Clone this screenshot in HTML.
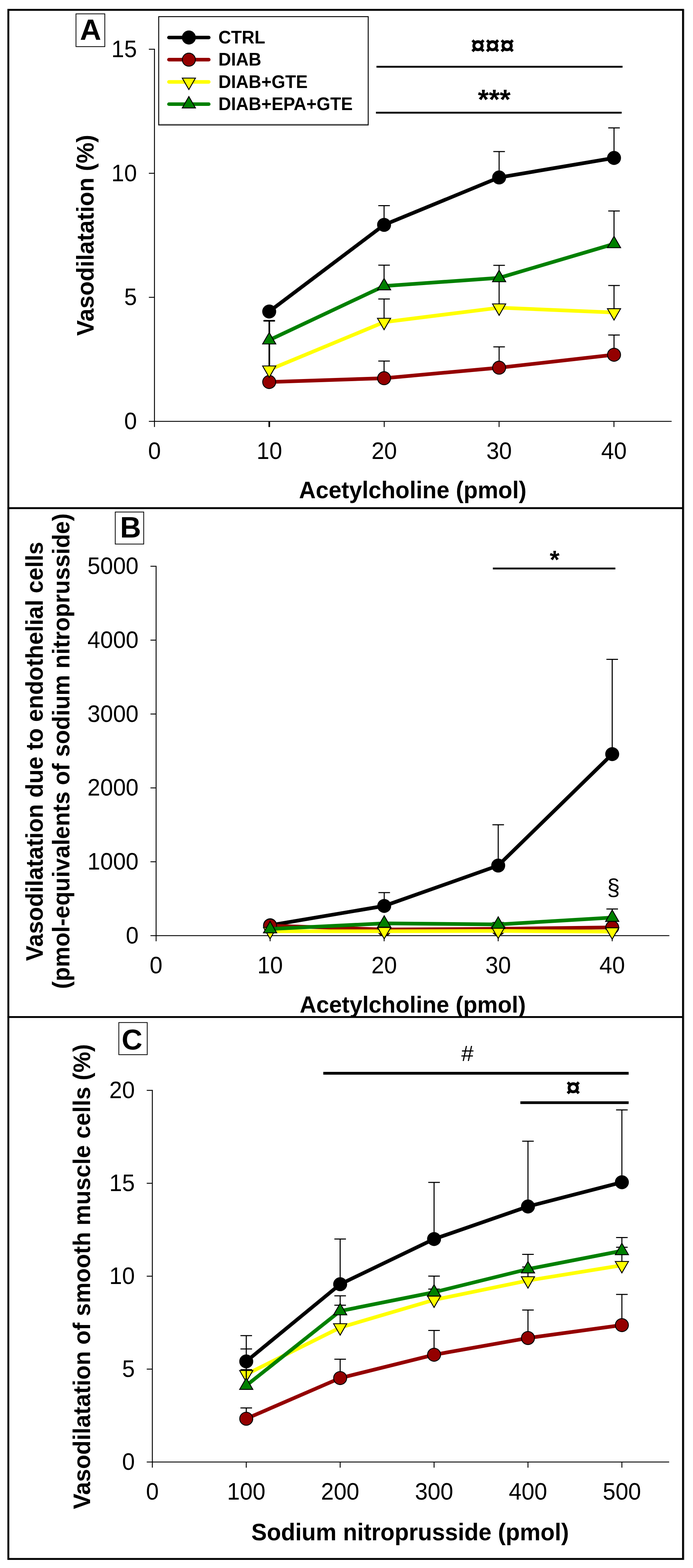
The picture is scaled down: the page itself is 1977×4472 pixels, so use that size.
<!DOCTYPE html>
<html lang="en"><head><meta charset="utf-8"><title>Vasodilatation figure</title>
<style>html,body{margin:0;padding:0;background:#fff}body{width:1977px;height:4472px;overflow:hidden}svg{display:block}text{font-family:'Liberation Sans', Arial, Helvetica, sans-serif;fill:#000}</style>
</head><body>
<svg width="1977" height="4472" viewBox="0 0 1977 4472">
<rect x="0" y="0" width="1977" height="4472" fill="#fff"/>
<defs><clipPath id="clipB"><rect x="0" y="1449" width="1977" height="1451.6"/></clipPath></defs>
<g id="panelA">
<line x1="440.7" y1="139.2" x2="440.7" y2="1217.8" stroke="#000" stroke-width="2.6" stroke-linecap="butt"/>
<line x1="424.7" y1="1201.8" x2="1916.0" y2="1201.8" stroke="#000" stroke-width="2.6" stroke-linecap="butt"/>
<text transform="translate(440.7 1309.3) scale(1 1.05)" font-size="65.5" text-anchor="middle">0</text>
<line x1="768.4" y1="1201.8" x2="768.4" y2="1217.8" stroke="#000" stroke-width="2.6" stroke-linecap="butt"/>
<text transform="translate(768.4 1309.3) scale(1 1.05)" font-size="65.5" text-anchor="middle">10</text>
<line x1="1096.1" y1="1201.8" x2="1096.1" y2="1217.8" stroke="#000" stroke-width="2.6" stroke-linecap="butt"/>
<text transform="translate(1096.1 1309.3) scale(1 1.05)" font-size="65.5" text-anchor="middle">20</text>
<line x1="1423.8" y1="1201.8" x2="1423.8" y2="1217.8" stroke="#000" stroke-width="2.6" stroke-linecap="butt"/>
<text transform="translate(1423.8 1309.3) scale(1 1.05)" font-size="65.5" text-anchor="middle">30</text>
<line x1="1751.5" y1="1201.8" x2="1751.5" y2="1217.8" stroke="#000" stroke-width="2.6" stroke-linecap="butt"/>
<text transform="translate(1751.5 1309.3) scale(1 1.05)" font-size="65.5" text-anchor="middle">40</text>
<text transform="translate(390.7 1224.1) scale(1 1.05)" font-size="65.5" text-anchor="end">0</text>
<line x1="424.7" y1="848.0" x2="440.7" y2="848.0" stroke="#000" stroke-width="2.6" stroke-linecap="butt"/>
<text transform="translate(390.7 870.3) scale(1 1.05)" font-size="65.5" text-anchor="end">5</text>
<line x1="424.7" y1="494.2" x2="440.7" y2="494.2" stroke="#000" stroke-width="2.6" stroke-linecap="butt"/>
<text transform="translate(390.7 516.5) scale(1 1.05)" font-size="65.5" text-anchor="end">10</text>
<line x1="424.7" y1="140.4" x2="440.7" y2="140.4" stroke="#000" stroke-width="2.6" stroke-linecap="butt"/>
<text transform="translate(390.7 162.7) scale(1 1.05)" font-size="65.5" text-anchor="end">15</text>
<text transform="translate(1177.5 1421.0) scale(1 1.03)" font-size="66" font-weight="bold" text-anchor="middle">Acetylcholine (pmol)</text>
<text transform="translate(266.7 671.1) rotate(-90) scale(1 1.03)" font-size="66.6" font-weight="bold" text-anchor="middle">Vasodilatation (%)</text>
<rect x="216.8" y="39.5" width="82.2" height="93.5" fill="none" stroke="#000" stroke-width="2.2"/>
<text x="258.3" y="113.5" font-size="84" font-weight="bold" text-anchor="middle">A</text>
<line x1="1074.0" y1="190.4" x2="1776.0" y2="190.4" stroke="#000" stroke-width="5.3" stroke-linecap="butt"/>
<line x1="1072.5" y1="321.4" x2="1773.5" y2="321.4" stroke="#000" stroke-width="5.3" stroke-linecap="butt"/>
<text x="1405.2" y="155.0" font-size="75" font-weight="bold" text-anchor="middle">&#164;&#164;&#164;</text>
<text x="1410.0" y="310.5" font-size="80" font-weight="bold" text-anchor="middle">***</text>
<line x1="768.3" y1="1054.0" x2="768.3" y2="914.9" stroke="#000" stroke-width="4.6" stroke-linecap="butt"/>
<line x1="752.8" y1="914.9" x2="783.8" y2="914.9" stroke="#000" stroke-width="4.6" stroke-linecap="butt"/>
<line x1="768.2" y1="1203.0" x2="768.2" y2="1217.8" stroke="#000" stroke-width="4.6" stroke-linecap="butt"/>
<line x1="1095.7" y1="641.4" x2="1095.7" y2="586.6" stroke="#000" stroke-width="3" stroke-linecap="butt"/>
<line x1="1079.2" y1="586.6" x2="1112.2" y2="586.6" stroke="#000" stroke-width="3" stroke-linecap="butt"/>
<line x1="1423.9" y1="506.2" x2="1423.9" y2="432.2" stroke="#000" stroke-width="3" stroke-linecap="butt"/>
<line x1="1407.4" y1="432.2" x2="1440.4" y2="432.2" stroke="#000" stroke-width="3" stroke-linecap="butt"/>
<line x1="1751.7" y1="450.5" x2="1751.7" y2="364.8" stroke="#000" stroke-width="3" stroke-linecap="butt"/>
<line x1="1735.2" y1="364.8" x2="1768.2" y2="364.8" stroke="#000" stroke-width="3" stroke-linecap="butt"/>
<polyline points="768.0,888.5 1095.7,641.4 1423.9,506.2 1751.7,450.5" fill="none" stroke="#000" stroke-width="10.5" stroke-linejoin="round"/>
<circle cx="768.0" cy="888.5" r="18.6" fill="#000" stroke="#000" stroke-width="2.6"/>
<circle cx="1095.7" cy="641.4" r="18.6" fill="#000" stroke="#000" stroke-width="2.6"/>
<circle cx="1423.9" cy="506.2" r="18.6" fill="#000" stroke="#000" stroke-width="2.6"/>
<circle cx="1751.7" cy="450.5" r="18.6" fill="#000" stroke="#000" stroke-width="2.6"/>
<line x1="1095.7" y1="1078.7" x2="1095.7" y2="1029.7" stroke="#000" stroke-width="3" stroke-linecap="butt"/>
<line x1="1079.2" y1="1029.7" x2="1112.2" y2="1029.7" stroke="#000" stroke-width="3" stroke-linecap="butt"/>
<line x1="1423.9" y1="1048.7" x2="1423.9" y2="989.2" stroke="#000" stroke-width="3" stroke-linecap="butt"/>
<line x1="1407.4" y1="989.2" x2="1440.4" y2="989.2" stroke="#000" stroke-width="3" stroke-linecap="butt"/>
<line x1="1751.7" y1="1011.8" x2="1751.7" y2="955.4" stroke="#000" stroke-width="3" stroke-linecap="butt"/>
<line x1="1735.2" y1="955.4" x2="1768.2" y2="955.4" stroke="#000" stroke-width="3" stroke-linecap="butt"/>
<polyline points="768.0,1089.5 1095.7,1078.7 1423.9,1048.7 1751.7,1011.8" fill="none" stroke="#940000" stroke-width="10.5" stroke-linejoin="round"/>
<circle cx="768.0" cy="1089.5" r="18.6" fill="#940000" stroke="#000" stroke-width="2.6"/>
<circle cx="1095.7" cy="1078.7" r="18.6" fill="#940000" stroke="#000" stroke-width="2.6"/>
<circle cx="1423.9" cy="1048.7" r="18.6" fill="#940000" stroke="#000" stroke-width="2.6"/>
<circle cx="1751.7" cy="1011.8" r="18.6" fill="#940000" stroke="#000" stroke-width="2.6"/>
<line x1="768.0" y1="1054.6" x2="768.0" y2="914.9" stroke="#000" stroke-width="3" stroke-linecap="butt"/>
<line x1="751.5" y1="914.9" x2="784.5" y2="914.9" stroke="#000" stroke-width="3" stroke-linecap="butt"/>
<line x1="1095.7" y1="918.7" x2="1095.7" y2="852.7" stroke="#000" stroke-width="3" stroke-linecap="butt"/>
<line x1="1079.2" y1="852.7" x2="1112.2" y2="852.7" stroke="#000" stroke-width="3" stroke-linecap="butt"/>
<line x1="1423.9" y1="877.6" x2="1423.9" y2="800.0" stroke="#000" stroke-width="3" stroke-linecap="butt"/>
<line x1="1407.4" y1="800.0" x2="1440.4" y2="800.0" stroke="#000" stroke-width="3" stroke-linecap="butt"/>
<line x1="1751.7" y1="891.3" x2="1751.7" y2="814.3" stroke="#000" stroke-width="3" stroke-linecap="butt"/>
<line x1="1735.2" y1="814.3" x2="1768.2" y2="814.3" stroke="#000" stroke-width="3" stroke-linecap="butt"/>
<polyline points="768.0,1054.6 1095.7,918.7 1423.9,877.6 1751.7,891.3" fill="none" stroke="#ffff00" stroke-width="10.5" stroke-linejoin="round"/>
<polygon points="749.2,1043.7 786.8,1043.7 768.0,1076.3" fill="#ffff00" stroke="#000" stroke-width="2.6" stroke-linejoin="miter"/>
<polygon points="1076.9,907.8 1114.5,907.8 1095.7,940.4" fill="#ffff00" stroke="#000" stroke-width="2.6" stroke-linejoin="miter"/>
<polygon points="1405.1,866.7 1442.7,866.7 1423.9,899.3" fill="#ffff00" stroke="#000" stroke-width="2.6" stroke-linejoin="miter"/>
<polygon points="1732.9,880.4 1770.5,880.4 1751.7,913.0" fill="#ffff00" stroke="#000" stroke-width="2.6" stroke-linejoin="miter"/>
<line x1="768.0" y1="970.1" x2="768.0" y2="914.9" stroke="#000" stroke-width="3" stroke-linecap="butt"/>
<line x1="751.5" y1="914.9" x2="784.5" y2="914.9" stroke="#000" stroke-width="3" stroke-linecap="butt"/>
<line x1="1095.7" y1="815.7" x2="1095.7" y2="756.3" stroke="#000" stroke-width="3" stroke-linecap="butt"/>
<line x1="1079.2" y1="756.3" x2="1112.2" y2="756.3" stroke="#000" stroke-width="3" stroke-linecap="butt"/>
<line x1="1423.9" y1="792.6" x2="1423.9" y2="756.8" stroke="#000" stroke-width="3" stroke-linecap="butt"/>
<line x1="1407.4" y1="756.8" x2="1440.4" y2="756.8" stroke="#000" stroke-width="3" stroke-linecap="butt"/>
<line x1="1751.7" y1="695.6" x2="1751.7" y2="601.8" stroke="#000" stroke-width="3" stroke-linecap="butt"/>
<line x1="1735.2" y1="601.8" x2="1768.2" y2="601.8" stroke="#000" stroke-width="3" stroke-linecap="butt"/>
<polyline points="768.0,970.1 1095.7,815.7 1423.9,792.6 1751.7,695.6" fill="none" stroke="#008000" stroke-width="10.5" stroke-linejoin="round"/>
<polygon points="749.2,981.0 786.8,981.0 768.0,948.4" fill="#008000" stroke="#000" stroke-width="2.6" stroke-linejoin="miter"/>
<polygon points="1076.9,826.6 1114.5,826.6 1095.7,794.0" fill="#008000" stroke="#000" stroke-width="2.6" stroke-linejoin="miter"/>
<polygon points="1405.1,803.5 1442.7,803.5 1423.9,770.9" fill="#008000" stroke="#000" stroke-width="2.6" stroke-linejoin="miter"/>
<polygon points="1732.9,706.5 1770.5,706.5 1751.7,673.9" fill="#008000" stroke="#000" stroke-width="2.6" stroke-linejoin="miter"/>
<rect x="452.8" y="47.4" width="597.6" height="309.0" fill="#fff" stroke="#000" stroke-width="2.6"/>
<line x1="454.1" y1="353.8" x2="1049.1" y2="353.8" stroke="#c6c6c6" stroke-width="2.6" stroke-linecap="butt"/>
<line x1="482.0" y1="107.0" x2="595.5" y2="107.0" stroke="#000" stroke-width="10.2" stroke-linecap="round"/>
<circle cx="538.8" cy="107.0" r="18.6" fill="#000" stroke="#000" stroke-width="2.6"/>
<text transform="translate(623.0 124.0) scale(1 1.04)" font-size="50.1" font-weight="bold" text-anchor="start">CTRL</text>
<line x1="482.0" y1="170.2" x2="595.5" y2="170.2" stroke="#940000" stroke-width="10.2" stroke-linecap="round"/>
<circle cx="538.8" cy="170.2" r="18.6" fill="#940000" stroke="#000" stroke-width="2.6"/>
<text transform="translate(623.0 187.2) scale(1 1.04)" font-size="50.1" font-weight="bold" text-anchor="start">DIAB</text>
<line x1="482.0" y1="233.6" x2="595.5" y2="233.6" stroke="#ffff00" stroke-width="10.2" stroke-linecap="round"/>
<polygon points="520.0,222.7 557.6,222.7 538.8,255.3" fill="#ffff00" stroke="#000" stroke-width="2.6" stroke-linejoin="miter"/>
<text transform="translate(623.0 250.6) scale(1 1.04)" font-size="50.1" font-weight="bold" text-anchor="start">DIAB+GTE</text>
<line x1="482.0" y1="297.0" x2="595.5" y2="297.0" stroke="#008000" stroke-width="10.2" stroke-linecap="round"/>
<polygon points="520.0,307.9 557.6,307.9 538.8,275.3" fill="#008000" stroke="#000" stroke-width="2.6" stroke-linejoin="miter"/>
<text transform="translate(623.0 314.0) scale(1 1.04)" font-size="50.1" font-weight="bold" text-anchor="start">DIAB+EPA+GTE</text>
</g>
<g id="panelB" clip-path="url(#clipB)">
<line x1="445.3" y1="1613.7" x2="445.3" y2="2684.5" stroke="#000" stroke-width="2.6" stroke-linecap="butt"/>
<line x1="429.3" y1="2668.5" x2="1909.5" y2="2668.5" stroke="#000" stroke-width="2.6" stroke-linecap="butt"/>
<text transform="translate(445.3 2776.0) scale(1 1.05)" font-size="65.5" text-anchor="middle">0</text>
<line x1="770.6" y1="2668.5" x2="770.6" y2="2684.5" stroke="#000" stroke-width="2.6" stroke-linecap="butt"/>
<text transform="translate(770.6 2776.0) scale(1 1.05)" font-size="65.5" text-anchor="middle">10</text>
<line x1="1095.9" y1="2668.5" x2="1095.9" y2="2684.5" stroke="#000" stroke-width="2.6" stroke-linecap="butt"/>
<text transform="translate(1095.9 2776.0) scale(1 1.05)" font-size="65.5" text-anchor="middle">20</text>
<line x1="1421.2" y1="2668.5" x2="1421.2" y2="2684.5" stroke="#000" stroke-width="2.6" stroke-linecap="butt"/>
<text transform="translate(1421.2 2776.0) scale(1 1.05)" font-size="65.5" text-anchor="middle">30</text>
<line x1="1746.5" y1="2668.5" x2="1746.5" y2="2684.5" stroke="#000" stroke-width="2.6" stroke-linecap="butt"/>
<text transform="translate(1746.5 2776.0) scale(1 1.05)" font-size="65.5" text-anchor="middle">40</text>
<text transform="translate(395.3 2690.8) scale(1 1.05)" font-size="65.5" text-anchor="end">0</text>
<line x1="429.3" y1="2457.8" x2="445.3" y2="2457.8" stroke="#000" stroke-width="2.6" stroke-linecap="butt"/>
<text transform="translate(395.3 2480.1) scale(1 1.05)" font-size="65.5" text-anchor="end">1000</text>
<line x1="429.3" y1="2247.1" x2="445.3" y2="2247.1" stroke="#000" stroke-width="2.6" stroke-linecap="butt"/>
<text transform="translate(395.3 2269.4) scale(1 1.05)" font-size="65.5" text-anchor="end">2000</text>
<line x1="429.3" y1="2036.4" x2="445.3" y2="2036.4" stroke="#000" stroke-width="2.6" stroke-linecap="butt"/>
<text transform="translate(395.3 2058.7) scale(1 1.05)" font-size="65.5" text-anchor="end">3000</text>
<line x1="429.3" y1="1825.7" x2="445.3" y2="1825.7" stroke="#000" stroke-width="2.6" stroke-linecap="butt"/>
<text transform="translate(395.3 1848.0) scale(1 1.05)" font-size="65.5" text-anchor="end">4000</text>
<line x1="429.3" y1="1615.0" x2="445.3" y2="1615.0" stroke="#000" stroke-width="2.6" stroke-linecap="butt"/>
<text transform="translate(395.3 1637.3) scale(1 1.05)" font-size="65.5" text-anchor="end">5000</text>
<text transform="translate(1177.5 2887.6) scale(1 1.03)" font-size="65.6" font-weight="bold" text-anchor="middle">Acetylcholine (pmol)</text>
<text transform="translate(121.7 2143.0) rotate(-90) scale(1 1.03)" font-size="66.0" font-weight="bold" text-anchor="middle">Vasodilatation due to endothelial cells</text>
<text transform="translate(198.3 2142.4) rotate(-90) scale(1 1.03)" font-size="65.8" font-weight="bold" text-anchor="middle">(pmol-equivalents of sodium nitroprusside)</text>
<rect x="328.8" y="1460.3" width="81.2" height="91.4" fill="none" stroke="#000" stroke-width="2.2"/>
<text x="372.5" y="1532.7" font-size="83" font-weight="bold" text-anchor="middle">B</text>
<line x1="1406.0" y1="1621.4" x2="1755.5" y2="1621.4" stroke="#000" stroke-width="5.3" stroke-linecap="butt"/>
<text x="1582.2" y="1621.3" font-size="72" font-weight="bold" text-anchor="middle">*</text>
<text x="1750.0" y="2553.0" font-size="66" text-anchor="middle">&#167;</text>
<line x1="1096.1" y1="2583.8" x2="1096.1" y2="2545.7" stroke="#000" stroke-width="3" stroke-linecap="butt"/>
<line x1="1079.6" y1="2545.7" x2="1112.6" y2="2545.7" stroke="#000" stroke-width="3" stroke-linecap="butt"/>
<line x1="1421.3" y1="2468.6" x2="1421.3" y2="2352.2" stroke="#000" stroke-width="3" stroke-linecap="butt"/>
<line x1="1404.8" y1="2352.2" x2="1437.8" y2="2352.2" stroke="#000" stroke-width="3" stroke-linecap="butt"/>
<line x1="1746.5" y1="2150.8" x2="1746.5" y2="1880.6" stroke="#000" stroke-width="3" stroke-linecap="butt"/>
<line x1="1730.0" y1="1880.6" x2="1763.0" y2="1880.6" stroke="#000" stroke-width="3" stroke-linecap="butt"/>
<polyline points="770.5,2639.0 1096.1,2583.8 1421.3,2468.6 1746.5,2150.8" fill="none" stroke="#000" stroke-width="10.5" stroke-linejoin="round"/>
<circle cx="770.5" cy="2639.0" r="18.6" fill="#000" stroke="#000" stroke-width="2.6"/>
<circle cx="1096.1" cy="2583.8" r="18.6" fill="#000" stroke="#000" stroke-width="2.6"/>
<circle cx="1421.3" cy="2468.6" r="18.6" fill="#000" stroke="#000" stroke-width="2.6"/>
<circle cx="1746.5" cy="2150.8" r="18.6" fill="#000" stroke="#000" stroke-width="2.6"/>
<line x1="1421.3" y1="2649.0" x2="1421.3" y2="2631.0" stroke="#000" stroke-width="3" stroke-linecap="butt"/>
<line x1="1404.8" y1="2631.0" x2="1437.8" y2="2631.0" stroke="#000" stroke-width="3" stroke-linecap="butt"/>
<polyline points="770.5,2640.0 1096.1,2651.0 1421.3,2649.0 1746.5,2645.0" fill="none" stroke="#940000" stroke-width="10.5" stroke-linejoin="round"/>
<circle cx="770.5" cy="2640.0" r="18.6" fill="#940000" stroke="#000" stroke-width="2.6"/>
<circle cx="1096.1" cy="2651.0" r="18.6" fill="#940000" stroke="#000" stroke-width="2.6"/>
<circle cx="1421.3" cy="2649.0" r="18.6" fill="#940000" stroke="#000" stroke-width="2.6"/>
<circle cx="1746.5" cy="2645.0" r="18.6" fill="#940000" stroke="#000" stroke-width="2.6"/>
<polyline points="770.5,2656.0 1096.1,2656.0 1421.3,2655.0 1746.5,2657.0" fill="none" stroke="#ffff00" stroke-width="10.5" stroke-linejoin="round"/>
<polygon points="751.7,2645.1 789.3,2645.1 770.5,2677.7" fill="#ffff00" stroke="#000" stroke-width="2.6" stroke-linejoin="miter"/>
<polygon points="1077.3,2645.1 1114.9,2645.1 1096.1,2677.7" fill="#ffff00" stroke="#000" stroke-width="2.6" stroke-linejoin="miter"/>
<polygon points="1402.5,2644.1 1440.1,2644.1 1421.3,2676.7" fill="#ffff00" stroke="#000" stroke-width="2.6" stroke-linejoin="miter"/>
<polygon points="1727.7,2646.1 1765.3,2646.1 1746.5,2678.7" fill="#ffff00" stroke="#000" stroke-width="2.6" stroke-linejoin="miter"/>
<line x1="1746.5" y1="2617.0" x2="1746.5" y2="2592.4" stroke="#000" stroke-width="3" stroke-linecap="butt"/>
<line x1="1730.0" y1="2592.4" x2="1763.0" y2="2592.4" stroke="#000" stroke-width="3" stroke-linecap="butt"/>
<polyline points="770.5,2649.6 1096.1,2633.5 1421.3,2636.5 1746.5,2617.0" fill="none" stroke="#008000" stroke-width="10.5" stroke-linejoin="round"/>
<polygon points="751.7,2660.5 789.3,2660.5 770.5,2627.9" fill="#008000" stroke="#000" stroke-width="2.6" stroke-linejoin="miter"/>
<polygon points="1077.3,2644.4 1114.9,2644.4 1096.1,2611.8" fill="#008000" stroke="#000" stroke-width="2.6" stroke-linejoin="miter"/>
<polygon points="1402.5,2647.4 1440.1,2647.4 1421.3,2614.8" fill="#008000" stroke="#000" stroke-width="2.6" stroke-linejoin="miter"/>
<polygon points="1727.7,2627.9 1765.3,2627.9 1746.5,2595.3" fill="#008000" stroke="#000" stroke-width="2.6" stroke-linejoin="miter"/>
</g>
<g id="panelC">
<line x1="434.6" y1="3108.6" x2="434.6" y2="4185.8" stroke="#000" stroke-width="2.6" stroke-linecap="butt"/>
<line x1="418.6" y1="4169.8" x2="1909.0" y2="4169.8" stroke="#000" stroke-width="2.6" stroke-linecap="butt"/>
<text transform="translate(434.6 4277.3) scale(1 1.05)" font-size="65.5" text-anchor="middle">0</text>
<line x1="702.5" y1="4169.8" x2="702.5" y2="4185.8" stroke="#000" stroke-width="2.6" stroke-linecap="butt"/>
<text transform="translate(702.5 4277.3) scale(1 1.05)" font-size="65.5" text-anchor="middle">100</text>
<line x1="970.4" y1="4169.8" x2="970.4" y2="4185.8" stroke="#000" stroke-width="2.6" stroke-linecap="butt"/>
<text transform="translate(970.4 4277.3) scale(1 1.05)" font-size="65.5" text-anchor="middle">200</text>
<line x1="1238.3" y1="4169.8" x2="1238.3" y2="4185.8" stroke="#000" stroke-width="2.6" stroke-linecap="butt"/>
<text transform="translate(1238.3 4277.3) scale(1 1.05)" font-size="65.5" text-anchor="middle">300</text>
<line x1="1506.2" y1="4169.8" x2="1506.2" y2="4185.8" stroke="#000" stroke-width="2.6" stroke-linecap="butt"/>
<text transform="translate(1506.2 4277.3) scale(1 1.05)" font-size="65.5" text-anchor="middle">400</text>
<line x1="1774.1" y1="4169.8" x2="1774.1" y2="4185.8" stroke="#000" stroke-width="2.6" stroke-linecap="butt"/>
<text transform="translate(1774.1 4277.3) scale(1 1.05)" font-size="65.5" text-anchor="middle">500</text>
<text transform="translate(384.6 4192.1) scale(1 1.05)" font-size="65.5" text-anchor="end">0</text>
<line x1="418.6" y1="3904.8" x2="434.6" y2="3904.8" stroke="#000" stroke-width="2.6" stroke-linecap="butt"/>
<text transform="translate(384.6 3927.1) scale(1 1.05)" font-size="65.5" text-anchor="end">5</text>
<line x1="418.6" y1="3639.8" x2="434.6" y2="3639.8" stroke="#000" stroke-width="2.6" stroke-linecap="butt"/>
<text transform="translate(384.6 3662.1) scale(1 1.05)" font-size="65.5" text-anchor="end">10</text>
<line x1="418.6" y1="3374.8" x2="434.6" y2="3374.8" stroke="#000" stroke-width="2.6" stroke-linecap="butt"/>
<text transform="translate(384.6 3397.1) scale(1 1.05)" font-size="65.5" text-anchor="end">15</text>
<line x1="418.6" y1="3109.8" x2="434.6" y2="3109.8" stroke="#000" stroke-width="2.6" stroke-linecap="butt"/>
<text transform="translate(384.6 3132.1) scale(1 1.05)" font-size="65.5" text-anchor="end">20</text>
<text transform="translate(1170.0 4393.0) scale(1 1.03)" font-size="66.3" font-weight="bold" text-anchor="middle">Sodium nitroprusside (pmol)</text>
<text transform="translate(257.4 3641.0) rotate(-90) scale(1 1.03)" font-size="66.5" font-weight="bold" text-anchor="middle">Vasodilatation of smooth muscle cells (%)</text>
<rect x="339.0" y="2916.3" width="81.0" height="91.7" fill="none" stroke="#000" stroke-width="2.2"/>
<text x="376.5" y="2992.5" font-size="82" font-weight="bold" text-anchor="middle">C</text>
<line x1="922.3" y1="3061.1" x2="1793.4" y2="3061.1" stroke="#000" stroke-width="8" stroke-linecap="butt"/>
<line x1="1484.5" y1="3144.8" x2="1793.4" y2="3144.8" stroke="#000" stroke-width="7.8" stroke-linecap="butt"/>
<text x="1333.5" y="3026.0" font-size="63" text-anchor="middle">#</text>
<text x="1635.3" y="3126.5" font-size="75" font-weight="bold" text-anchor="middle">&#164;</text>
<line x1="702.5" y1="3882.8" x2="702.5" y2="3809.3" stroke="#000" stroke-width="3" stroke-linecap="butt"/>
<line x1="686.0" y1="3809.3" x2="719.0" y2="3809.3" stroke="#000" stroke-width="3" stroke-linecap="butt"/>
<line x1="970.4" y1="3662.7" x2="970.4" y2="3533.8" stroke="#000" stroke-width="3" stroke-linecap="butt"/>
<line x1="953.9" y1="3533.8" x2="986.9" y2="3533.8" stroke="#000" stroke-width="3" stroke-linecap="butt"/>
<line x1="1238.3" y1="3533.8" x2="1238.3" y2="3372.2" stroke="#000" stroke-width="3" stroke-linecap="butt"/>
<line x1="1221.8" y1="3372.2" x2="1254.8" y2="3372.2" stroke="#000" stroke-width="3" stroke-linecap="butt"/>
<line x1="1506.2" y1="3441.0" x2="1506.2" y2="3254.7" stroke="#000" stroke-width="3" stroke-linecap="butt"/>
<line x1="1489.7" y1="3254.7" x2="1522.7" y2="3254.7" stroke="#000" stroke-width="3" stroke-linecap="butt"/>
<line x1="1774.1" y1="3371.8" x2="1774.1" y2="3165.5" stroke="#000" stroke-width="3" stroke-linecap="butt"/>
<line x1="1757.6" y1="3165.5" x2="1790.6" y2="3165.5" stroke="#000" stroke-width="3" stroke-linecap="butt"/>
<polyline points="702.5,3882.8 970.4,3662.7 1238.3,3533.8 1506.2,3441.0 1774.1,3371.8" fill="none" stroke="#000" stroke-width="10.5" stroke-linejoin="round"/>
<circle cx="702.5" cy="3882.8" r="18.6" fill="#000" stroke="#000" stroke-width="2.6"/>
<circle cx="970.4" cy="3662.7" r="18.6" fill="#000" stroke="#000" stroke-width="2.6"/>
<circle cx="1238.3" cy="3533.8" r="18.6" fill="#000" stroke="#000" stroke-width="2.6"/>
<circle cx="1506.2" cy="3441.0" r="18.6" fill="#000" stroke="#000" stroke-width="2.6"/>
<circle cx="1774.1" cy="3371.8" r="18.6" fill="#000" stroke="#000" stroke-width="2.6"/>
<line x1="702.5" y1="4046.3" x2="702.5" y2="4015.4" stroke="#000" stroke-width="3" stroke-linecap="butt"/>
<line x1="686.0" y1="4015.4" x2="719.0" y2="4015.4" stroke="#000" stroke-width="3" stroke-linecap="butt"/>
<line x1="970.4" y1="3930.3" x2="970.4" y2="3876.4" stroke="#000" stroke-width="3" stroke-linecap="butt"/>
<line x1="953.9" y1="3876.4" x2="986.9" y2="3876.4" stroke="#000" stroke-width="3" stroke-linecap="butt"/>
<line x1="1238.3" y1="3863.8" x2="1238.3" y2="3794.5" stroke="#000" stroke-width="3" stroke-linecap="butt"/>
<line x1="1221.8" y1="3794.5" x2="1254.8" y2="3794.5" stroke="#000" stroke-width="3" stroke-linecap="butt"/>
<line x1="1506.2" y1="3816.1" x2="1506.2" y2="3736.2" stroke="#000" stroke-width="3" stroke-linecap="butt"/>
<line x1="1489.7" y1="3736.2" x2="1522.7" y2="3736.2" stroke="#000" stroke-width="3" stroke-linecap="butt"/>
<line x1="1774.1" y1="3779.3" x2="1774.1" y2="3691.8" stroke="#000" stroke-width="3" stroke-linecap="butt"/>
<line x1="1757.6" y1="3691.8" x2="1790.6" y2="3691.8" stroke="#000" stroke-width="3" stroke-linecap="butt"/>
<polyline points="702.5,4046.3 970.4,3930.3 1238.3,3863.8 1506.2,3816.1 1774.1,3779.3" fill="none" stroke="#940000" stroke-width="10.5" stroke-linejoin="round"/>
<circle cx="702.5" cy="4046.3" r="18.6" fill="#940000" stroke="#000" stroke-width="2.6"/>
<circle cx="970.4" cy="3930.3" r="18.6" fill="#940000" stroke="#000" stroke-width="2.6"/>
<circle cx="1238.3" cy="3863.8" r="18.6" fill="#940000" stroke="#000" stroke-width="2.6"/>
<circle cx="1506.2" cy="3816.1" r="18.6" fill="#940000" stroke="#000" stroke-width="2.6"/>
<circle cx="1774.1" cy="3779.3" r="18.6" fill="#940000" stroke="#000" stroke-width="2.6"/>
<line x1="702.5" y1="3919.7" x2="702.5" y2="3847.3" stroke="#000" stroke-width="3" stroke-linecap="butt"/>
<line x1="686.0" y1="3847.3" x2="719.0" y2="3847.3" stroke="#000" stroke-width="3" stroke-linecap="butt"/>
<line x1="970.4" y1="3786.2" x2="970.4" y2="3722.4" stroke="#000" stroke-width="3" stroke-linecap="butt"/>
<line x1="953.9" y1="3722.4" x2="986.9" y2="3722.4" stroke="#000" stroke-width="3" stroke-linecap="butt"/>
<line x1="1238.3" y1="3707.3" x2="1238.3" y2="3676.4" stroke="#000" stroke-width="3" stroke-linecap="butt"/>
<line x1="1221.8" y1="3676.4" x2="1254.8" y2="3676.4" stroke="#000" stroke-width="3" stroke-linecap="butt"/>
<line x1="1506.2" y1="3652.1" x2="1506.2" y2="3613.4" stroke="#000" stroke-width="3" stroke-linecap="butt"/>
<line x1="1489.7" y1="3613.4" x2="1522.7" y2="3613.4" stroke="#000" stroke-width="3" stroke-linecap="butt"/>
<line x1="1774.1" y1="3608.7" x2="1774.1" y2="3557.3" stroke="#000" stroke-width="3" stroke-linecap="butt"/>
<line x1="1757.6" y1="3557.3" x2="1790.6" y2="3557.3" stroke="#000" stroke-width="3" stroke-linecap="butt"/>
<polyline points="702.5,3919.7 970.4,3786.2 1238.3,3707.3 1506.2,3652.1 1774.1,3608.7" fill="none" stroke="#ffff00" stroke-width="10.5" stroke-linejoin="round"/>
<polygon points="683.7,3908.8 721.3,3908.8 702.5,3941.4" fill="#ffff00" stroke="#000" stroke-width="2.6" stroke-linejoin="miter"/>
<polygon points="951.6,3775.3 989.2,3775.3 970.4,3807.9" fill="#ffff00" stroke="#000" stroke-width="2.6" stroke-linejoin="miter"/>
<polygon points="1219.5,3696.4 1257.1,3696.4 1238.3,3729.0" fill="#ffff00" stroke="#000" stroke-width="2.6" stroke-linejoin="miter"/>
<polygon points="1487.4,3641.2 1525.0,3641.2 1506.2,3673.8" fill="#ffff00" stroke="#000" stroke-width="2.6" stroke-linejoin="miter"/>
<polygon points="1755.3,3597.8 1792.9,3597.8 1774.1,3630.4" fill="#ffff00" stroke="#000" stroke-width="2.6" stroke-linejoin="miter"/>
<line x1="702.5" y1="3951.7" x2="702.5" y2="3906.2" stroke="#000" stroke-width="3" stroke-linecap="butt"/>
<line x1="686.0" y1="3906.2" x2="719.0" y2="3906.2" stroke="#000" stroke-width="3" stroke-linecap="butt"/>
<line x1="970.4" y1="3739.1" x2="970.4" y2="3695.8" stroke="#000" stroke-width="3" stroke-linecap="butt"/>
<line x1="953.9" y1="3695.8" x2="986.9" y2="3695.8" stroke="#000" stroke-width="3" stroke-linecap="butt"/>
<line x1="1238.3" y1="3685.5" x2="1238.3" y2="3639.6" stroke="#000" stroke-width="3" stroke-linecap="butt"/>
<line x1="1221.8" y1="3639.6" x2="1254.8" y2="3639.6" stroke="#000" stroke-width="3" stroke-linecap="butt"/>
<line x1="1506.2" y1="3619.5" x2="1506.2" y2="3577.6" stroke="#000" stroke-width="3" stroke-linecap="butt"/>
<line x1="1489.7" y1="3577.6" x2="1522.7" y2="3577.6" stroke="#000" stroke-width="3" stroke-linecap="butt"/>
<line x1="1774.1" y1="3567.5" x2="1774.1" y2="3529.5" stroke="#000" stroke-width="3" stroke-linecap="butt"/>
<line x1="1757.6" y1="3529.5" x2="1790.6" y2="3529.5" stroke="#000" stroke-width="3" stroke-linecap="butt"/>
<polyline points="702.5,3951.7 970.4,3739.1 1238.3,3685.5 1506.2,3619.5 1774.1,3567.5" fill="none" stroke="#008000" stroke-width="10.5" stroke-linejoin="round"/>
<polygon points="683.7,3962.6 721.3,3962.6 702.5,3930.0" fill="#008000" stroke="#000" stroke-width="2.6" stroke-linejoin="miter"/>
<polygon points="951.6,3750.0 989.2,3750.0 970.4,3717.4" fill="#008000" stroke="#000" stroke-width="2.6" stroke-linejoin="miter"/>
<polygon points="1219.5,3696.4 1257.1,3696.4 1238.3,3663.8" fill="#008000" stroke="#000" stroke-width="2.6" stroke-linejoin="miter"/>
<polygon points="1487.4,3630.4 1525.0,3630.4 1506.2,3597.8" fill="#008000" stroke="#000" stroke-width="2.6" stroke-linejoin="miter"/>
<polygon points="1755.3,3578.4 1792.9,3578.4 1774.1,3545.8" fill="#008000" stroke="#000" stroke-width="2.6" stroke-linejoin="miter"/>
</g>
<g id="frame">
<rect x="23.8" y="28.1" width="1924.7" height="4418.1" fill="none" stroke="#000" stroke-width="5.4"/>
<line x1="1952.2" y1="26.0" x2="1952.2" y2="4449.0" stroke="#b0b0b0" stroke-width="1.6" stroke-linecap="butt"/>
<line x1="21.0" y1="1449.2" x2="1951.0" y2="1449.2" stroke="#000" stroke-width="5.4" stroke-linecap="butt"/>
<line x1="21.0" y1="2900.6" x2="1951.0" y2="2900.6" stroke="#000" stroke-width="5.4" stroke-linecap="butt"/>
</g>
</svg></body></html>
